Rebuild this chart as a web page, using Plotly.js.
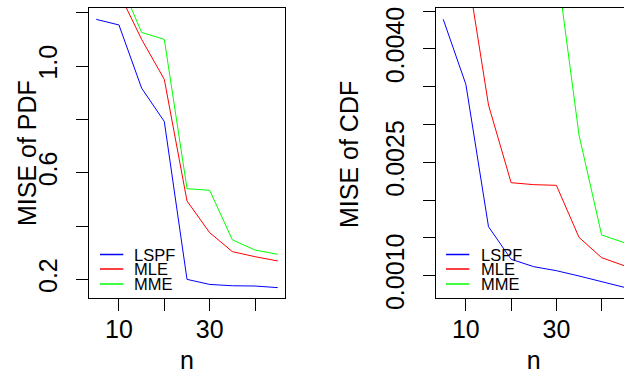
<!DOCTYPE html>
<html>
<head>
<meta charset="utf-8">
<script src="https://cdn.plot.ly/plotly-3.0.1.min.js"></script>
<style>
  html, body { margin: 0; padding: 0; overflow: hidden; background: #fff; }
  #chart { width: 640px; height: 374px; }
</style>
</head>
<body>
<div id="chart"></div>
<script>
// ---- data ----
const n = [5, 10, 15, 20, 25, 30, 35, 40, 45];
const seriesNames = ["LSPF", "MLE", "MME"];

const pdfLSPF = [1.175, 1.154, 0.917, 0.792, 0.200, 0.181, 0.176, 0.175, 0.169];
const pdfMLE  = [1.45, 1.274, 1.100, 0.950, 0.494, 0.375, 0.304, 0.285, 0.269];
const pdfMME  = [1.55, 1.325, 1.126, 1.100, 0.540, 0.534, 0.348, 0.310, 0.294];

const cdfLSPF = [0.00439, 0.00353, 0.001647, 0.001216, 0.001118, 0.001065, 0.000995, 0.00092, 0.000845];
const cdfMLE  = [0.0062, 0.00515, 0.003257, 0.002229, 0.002203, 0.002194, 0.001506, 0.001237, 0.001131];
const cdfMME  = [0.0095, 0.0085, 0.0075, 0.0065, 0.0058, 0.005135, 0.00286, 0.001537, 0.001435];

const xTickVals = [10, 20, 30, 40];
const xTickText = ["10", "", "30", ""];
const pdfTickVals = [0.2, 0.4, 0.6, 0.8, 1.0, 1.2];
const pdfTickText = ["0.2", "", "0.6", "", "1.0", ""];
const cdfTickVals = [0.0010, 0.0015, 0.0020, 0.0025, 0.0030, 0.0035, 0.0040, 0.0045];
const cdfTickText = ["0.0010", "", "", "0.0025", "", "", "0.0040", ""];

const xTitle = "n";
const pdfTitle = "MISE of PDF";
const cdfTitle = "MISE of CDF";

// ---- styling ----
const W = 640, H = 374;
const colors = ["#0000FF", "#FF0000", "#00FF00"];
const FONT = "Liberation Sans, Arial, sans-serif";

const pdfSeries = [pdfLSPF, pdfMLE, pdfMME];
const cdfSeries = [cdfLSPF, cdfMLE, cdfMME];

const traces = [];
seriesNames.forEach((name, i) => {
  traces.push({x: n, y: pdfSeries[i], type: "scatter", mode: "lines", name: name,
    xaxis: "x", yaxis: "y", line: {color: colors[i], width: 1}, showlegend: false});
  traces.push({x: n, y: cdfSeries[i], type: "scatter", mode: "lines", name: name,
    xaxis: "x2", yaxis: "y2", line: {color: colors[i], width: 1}, showlegend: false});
});

const px = v => v / W;
const py = v => 1 - v / H;

const axisCommon = {
  showgrid: false, zeroline: false, showline: true, mirror: true,
  linecolor: "#000", linewidth: 1, ticks: "outside", ticklen: 12, tickwidth: 1,
  tickcolor: "#000", tickfont: {family: FONT, size: 25, color: "#000"},
  automargin: false, fixedrange: true, tickmode: "array"
};
const titleFont = {family: FONT, size: 25, color: "#000"};

const layout = {
  width: W, height: H,
  margin: {l: 0, r: 0, t: 0, b: 0},
  paper_bgcolor: "#fff", plot_bgcolor: "#fff",
  font: {family: FONT, color: "#000"},
  showlegend: false,
  xaxis: Object.assign({}, axisCommon, {
    domain: [px(89), px(285)], range: [3.4, 46.6], anchor: "y",
    tickvals: xTickVals, ticktext: xTickText, ticklabelstandoff: -3,
    title: {text: xTitle, font: titleFont, standoff: 9}
  }),
  yaxis: Object.assign({}, axisCommon, {
    domain: [py(298), py(8)], range: [0.1301, 1.2176], anchor: "x",
    tickvals: pdfTickVals, ticktext: pdfTickText, tickangle: -90, ticklabelstandoff: 9
  }),
  xaxis2: Object.assign({}, axisCommon, {
    domain: [px(436), px(631.5)], range: [3.4, 46.6], anchor: "y2",
    tickvals: xTickVals, ticktext: xTickText, ticklabelstandoff: -3,
    title: {text: xTitle, font: titleFont, standoff: 9}
  }),
  yaxis2: Object.assign({}, axisCommon, {
    domain: [py(298), py(8)], range: [0.0007037, 0.0045397], anchor: "x2",
    tickvals: cdfTickVals, ticktext: cdfTickText, tickangle: -90, ticklabelstandoff: 9
  }),
  shapes: [],
  annotations: [
    {xref: "paper", yref: "paper", x: px(26.5), y: py(153.5), xanchor: "center", yanchor: "middle",
     textangle: -90, showarrow: false, text: pdfTitle, font: titleFont},
    {xref: "paper", yref: "paper", x: px(349), y: py(155), xanchor: "center", yanchor: "middle",
     textangle: -90, showarrow: false, text: cdfTitle, font: titleFont}
  ]
};

// manual legends (R style, bty="n")
const legends = [
  {lineX0: 100, lineX1: 123.3, textX: 133},
  {lineX0: 446, lineX1: 469.3, textX: 480}
];
const legendRows = [254.5, 269, 284];
legends.forEach(lg => {
  seriesNames.forEach((name, i) => {
    layout.shapes.push({type: "line", xref: "paper", yref: "paper",
      x0: px(lg.lineX0), x1: px(lg.lineX1), y0: py(legendRows[i]), y1: py(legendRows[i]),
      line: {color: colors[i], width: 1.5}});
    layout.annotations.push({xref: "paper", yref: "paper", x: px(lg.textX), y: py(legendRows[i]),
      xanchor: "left", yanchor: "middle", showarrow: false, text: name, borderpad: 0,
      font: {family: FONT, size: 16.5, color: "#000"}});
  });
});

Plotly.newPlot("chart", traces, layout, {displayModeBar: false, staticPlot: true});
</script>
</body>
</html>
